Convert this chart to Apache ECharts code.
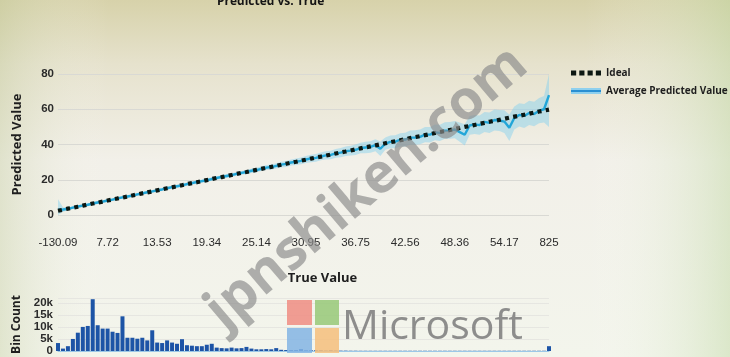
<!DOCTYPE html>
<html>
<head>
<meta charset="utf-8">
<script src="https://cdn.jsdelivr.net/npm/echarts@6/dist/echarts.min.js"></script>
<style>html,body{margin:0;padding:0;background:#eeece2;}#c{width:730px;height:357px;}</style>
</head>
<body>
<div id="c"></div>
<script>
// ---- data ----
const tickLabels = ['-130.09','7.72','13.53','19.34','25.14','30.95','36.75','42.56','48.36','54.17','825'];
const tickIndex = [0,10,20,30,40,50,60,70,80,90,99];
const binCount = 100;

const ideal = [2.4,3.0,3.6,4.1,4.7,5.3,5.9,6.5,7.0,7.6,
  8.2,8.8,9.4,9.9,10.5,11.1,11.7,12.3,12.8,13.4,
  14.0,14.6,15.2,15.7,16.3,16.9,17.5,18.1,18.6,19.2,
  19.8,20.4,21.0,21.5,22.1,22.7,23.3,23.9,24.4,25.0,
  25.6,26.2,26.8,27.3,27.9,28.5,29.1,29.7,30.2,30.8,
  31.4,32.0,32.6,33.1,33.7,34.3,34.9,35.5,36.0,36.6,
  37.2,37.8,38.4,38.9,39.5,40.1,40.7,41.3,41.8,42.4,
  43.0,43.6,44.2,44.7,45.3,45.9,46.5,47.1,47.6,48.2,
  48.8,49.4,50.0,50.5,51.1,51.7,52.3,52.9,53.4,54.0,
  54.6,55.2,55.8,56.3,56.9,57.5,58.1,58.7,59.2,59.8];

const avgPredicted = [3.0,3.1,3.5,4.2,4.8,5.3,5.8,6.5,7.1,7.6,
  8.2,8.7,9.4,10.0,10.5,11.0,11.7,12.3,12.9,13.4,
  14.0,14.5,15.2,15.8,16.3,16.8,17.5,18.1,18.7,19.2,
  19.7,20.4,21.0,21.6,22.1,22.6,23.3,23.9,24.4,25.1,
  25.5,26.2,26.9,27.2,27.9,28.6,29.0,29.8,30.2,30.7,
  31.5,32.1,32.4,33.2,33.8,34.1,35.0,35.4,36.2,36.5,
  37.0,38.0,38.3,38.6,39.6,37.6,40.5,41.5,41.6,42.6,
  42.8,43.9,44.0,44.3,45.6,45.6,46.9,46.6,47.9,48.0,
  48.5,47.0,45.5,50.8,51.4,51.0,52.8,52.3,53.9,53.6,
  53.0,49.5,55.0,56.8,56.2,57.9,57.3,59.2,60.0,68.0];

const bandLower = [-1.0,1.9,2.7,3.4,4.0,4.5,5.0,5.7,6.3,6.8,
  7.4,7.9,8.6,9.2,9.7,10.2,10.9,11.5,12.1,12.6,
  13.2,13.6,14.3,14.9,15.4,15.9,16.6,17.2,17.8,18.3,
  18.7,19.4,20.0,20.6,21.0,21.5,22.2,22.8,23.2,23.9,
  24.2,24.9,25.5,25.7,26.4,27.0,27.3,28.1,28.4,28.8,
  29.5,30.0,30.2,31.0,31.5,31.7,32.5,32.8,33.5,33.7,
  34.0,35.0,35.1,35.3,36.2,33.5,37.0,37.9,37.9,38.8,
  38.9,39.9,39.9,40.1,41.3,41.2,42.4,42.0,43.2,43.2,
  43.6,41.5,39.5,45.5,46.0,45.5,47.1,46.5,48.0,47.6,
  46.5,42.0,48.5,50.2,49.4,51.0,50.3,52.0,52.5,50.0];

const bandUpper = [8.0,4.4,4.3,5.0,5.6,6.1,6.6,7.3,7.9,8.4,
  9.0,9.5,10.2,10.8,11.3,11.8,12.5,13.1,13.7,14.2,
  14.8,15.4,16.1,16.7,17.2,17.7,18.4,19.0,19.6,20.1,
  20.7,21.4,22.0,22.6,23.2,23.7,24.4,25.0,25.6,26.3,
  26.8,27.5,28.3,28.7,29.4,30.2,30.7,31.5,32.0,32.6,
  33.5,34.2,34.6,35.4,36.1,36.5,37.5,38.0,38.9,39.3,
  40.0,41.0,41.5,41.9,43.0,41.7,44.0,45.1,45.3,46.4,
  46.7,47.9,48.1,48.5,49.9,50.0,51.4,51.2,52.6,52.8,
  53.4,52.5,51.5,56.1,56.8,56.5,58.5,58.1,59.8,59.6,
  59.5,57.0,61.5,63.4,63.0,64.8,64.3,66.4,67.5,80.0];

const binCounts = [3300,1000,2000,5000,7600,10000,10400,21500,10700,9300,
  9300,8000,7500,14400,5500,5500,5100,5500,4400,8600,
  3500,3300,4400,3500,3000,4900,2400,2200,2000,2000,
  2600,3000,1400,1200,1100,1400,1100,1200,1700,1000,
  700,700,800,700,1200,500,400,400,400,800,
  300,300,300,300,200,300,200,150,150,120,
  120,100,100,100,100,100,100,100,100,100,
  100,100,100,100,100,100,100,100,100,100,
  100,100,100,100,100,100,100,100,100,100,
  100,100,100,100,100,100,100,100,100,2000];

// ---- build ----
const categories = [];
for (let i = 0; i < binCount; i++) {
  const k = tickIndex.indexOf(i);
  categories.push(k >= 0 ? tickLabels[k] : 'bin' + i);
}
const bandWidth = bandUpper.map((u, i) => +(u - bandLower[i]).toFixed(2));
const showTick = (i) => tickIndex.indexOf(i) >= 0;

const chart = echarts.init(document.getElementById('c'), null, {renderer: 'canvas'});
const axisFont = {color: '#2b2b2b', fontFamily: 'Liberation Sans, Arial, sans-serif', fontSize: 11.5};
const dotsIcon = 'path://M0,0h5v5h-5zM8,0h5v5h-5zM16,0h5v5h-5zM24,0h5v5h-5z';

chart.setOption({
  animation: false,
  backgroundColor: 'transparent',
  title: {
    text: 'Predicted vs. True', left: 212, top: -9,
    textStyle: {fontSize: 12, fontWeight: 'bold', color: '#151515', fontFamily: 'Open Sans, sans-serif'}
  },
  graphic: [
    {type: 'rect', z: -100, silent: true, shape: {x: 0, y: 0, width: 730, height: 357},
      style: {fill: new echarts.graphic.LinearGradient(0, 0, 0, 1, [
        {offset: 0, color: '#d7d2aa'}, {offset: 0.18, color: '#e6e2cd'},
        {offset: 0.45, color: '#f2f0e9'}, {offset: 1, color: '#f3f5ec'}])}},
    {type: 'rect', z: -99, silent: true, shape: {x: 0, y: 0, width: 730, height: 357},
      style: {fill: new echarts.graphic.LinearGradient(0, 0, 1, 0, [
        {offset: 0, color: 'rgba(190,200,150,0.35)'}, {offset: 0.15, color: 'rgba(255,255,255,0)'},
        {offset: 0.8, color: 'rgba(255,255,255,0)'}, {offset: 1, color: 'rgba(190,215,160,0.45)'}])}},
    {type: 'text', z: 50, silent: true, x: 367, y: 188, rotation: 40.5 * Math.PI / 180,
      style: {text: 'jpnshiken.com', fill: 'rgba(140,140,140,0.68)', font: 'bold 55px "Open Sans", sans-serif',
        textAlign: 'center', textVerticalAlign: 'middle'}},
    {type: 'rect', z: 50, silent: true, shape: {x: 287, y: 300, width: 25, height: 25}, style: {fill: 'rgba(238,140,130,0.85)'}},
    {type: 'rect', z: 50, silent: true, shape: {x: 315, y: 300, width: 24, height: 25}, style: {fill: 'rgba(150,200,120,0.85)'}},
    {type: 'rect', z: 50, silent: true, shape: {x: 287, y: 328, width: 25, height: 25}, style: {fill: 'rgba(130,180,228,0.85)'}},
    {type: 'rect', z: 50, silent: true, shape: {x: 315, y: 328, width: 24, height: 25}, style: {fill: 'rgba(245,190,125,0.85)'}},
    {type: 'text', z: 50, silent: true, x: 342, y: 327,
      style: {text: 'Microsoft', fill: 'rgba(130,130,130,0.9)', font: '41px "Open Sans", sans-serif',
        textAlign: 'left', textVerticalAlign: 'middle'}}
  ],
  legend: {
    orient: 'vertical', left: 566, top: 63, itemWidth: 30, itemHeight: 6, itemGap: 8,
    data: [
      {name: 'Ideal', icon: dotsIcon, itemStyle: {color: '#0c1712'}},
      {name: 'Average Predicted Value', icon: 'rect',
        itemStyle: {color: new echarts.graphic.LinearGradient(0, 0, 0, 1, [
          {offset: 0, color: '#8fd0ee'}, {offset: 0.35, color: '#8fd0ee'}, {offset: 0.36, color: '#2a8fd2'},
          {offset: 0.64, color: '#2a8fd2'}, {offset: 0.65, color: '#8fd0ee'}, {offset: 1, color: '#8fd0ee'}])}}
    ],
    textStyle: {fontSize: 10, fontWeight: 'bold', color: '#1e1e1e', fontFamily: 'Open Sans, sans-serif'}
  },
  grid: [
    {left: 58, right: 181, top: 74, bottom: 142},
    {left: 58, right: 181, top: 298, bottom: 6}
  ],
  xAxis: [
    {gridIndex: 0, type: 'category', data: categories, boundaryGap: false,
      name: 'True Value', nameLocation: 'middle', nameGap: 57,
      nameTextStyle: {fontSize: 13, fontWeight: 'bold', color: '#1e1e1e', fontFamily: 'Open Sans, sans-serif', padding: [0, 0, 0, 38]},
      axisLine: {show: false}, axisTick: {show: false},
      axisLabel: Object.assign({interval: showTick, margin: 22}, axisFont)},
    {gridIndex: 1, type: 'category', data: categories, boundaryGap: false,
      axisLine: {show: true, lineStyle: {color: '#9cc8e8', width: 1}}, axisTick: {show: false},
      axisLabel: {show: false}}
  ],
  yAxis: [
    {gridIndex: 0, type: 'value', min: 0, max: 80, interval: 20,
      name: 'Predicted Value', nameLocation: 'middle', nameGap: 34,
      nameTextStyle: {fontSize: 13, fontWeight: 'bold', color: '#1e1e1e', fontFamily: 'Open Sans, sans-serif'},
      axisLine: {show: false}, axisTick: {show: false},
      axisLabel: Object.assign({margin: 4, fontWeight: 'bold'}, axisFont),
      splitLine: {lineStyle: {color: '#d9d9d4', width: 1}}},
    {gridIndex: 1, type: 'value', min: 0, max: 22000, interval: 5000,
      name: 'Bin Count', nameLocation: 'middle', nameGap: 33,
      nameTextStyle: {fontSize: 12, fontWeight: 'bold', color: '#1e1e1e', fontFamily: 'Open Sans, sans-serif'},
      axisLine: {show: false}, axisTick: {show: false},
      axisLabel: Object.assign({margin: 5, fontWeight: 'bold', showMaxLabel: false,
        formatter: (v) => v === 0 ? '0' : (v / 1000) + 'k'}, axisFont),
      splitLine: {lineStyle: {color: '#e6e6e1', width: 1}}}
  ],
  series: [
    {name: 'bandLow', type: 'line', xAxisIndex: 0, yAxisIndex: 0, stack: 'band', data: bandLower,
      symbol: 'none', lineStyle: {opacity: 0}, silent: true, z: 1},
    {name: 'bandRange', type: 'line', xAxisIndex: 0, yAxisIndex: 0, stack: 'band', data: bandWidth,
      symbol: 'none', lineStyle: {opacity: 0}, areaStyle: {color: 'rgba(120,205,240,0.6)'}, silent: true, z: 1},
    {name: 'Average Predicted Value', type: 'line', xAxisIndex: 0, yAxisIndex: 0, data: avgPredicted,
      symbol: 'none', color: '#22a6d8', lineStyle: {color: '#22a6d8', width: 2.4}, z: 3},
    {name: 'Ideal', type: 'line', xAxisIndex: 0, yAxisIndex: 0, data: ideal,
      symbol: 'none', color: '#0c1712', lineStyle: {color: '#0c1712', width: 4.2, type: [4, 4.3]}, z: 4},
    {name: 'Bin Count', type: 'bar', xAxisIndex: 1, yAxisIndex: 1, data: binCounts,
      barWidth: 4, itemStyle: {color: '#1d54a6'}, z: 2}
  ]
});
</script>
</body>
</html>
